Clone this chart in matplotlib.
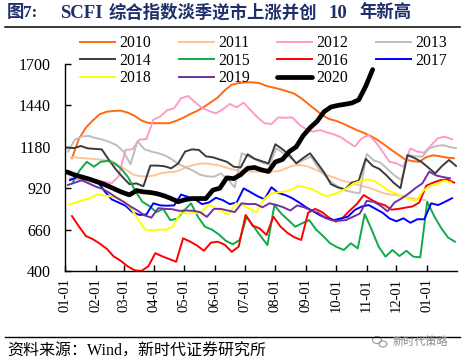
import matplotlib
matplotlib.use('Agg')
import matplotlib.pyplot as plt
import numpy as np
from matplotlib.lines import Line2D
import matplotlib.patches as mpatches

plt.rcParams['font.family'] = ['Liberation Serif', 'Noto Sans CJK SC', 'DejaVu Sans']

# ---------------- data ----------------
years = ['2010', '2011', '2012', '2013', '2014', '2015', '2016', '2017', '2018', '2019', '2020']
# day-of-year of the first weekly SCFI print of each year
first_print_day = [7, 6, 5, 3, 2, 8, 7, 5, 4, 3, 2]

v2010 = [1108, 1230, 1300, 1345, 1385, 1400, 1405, 1407, 1395, 1375, 1345, 1330, 1328, 1328,
         1328, 1343, 1362, 1385, 1405, 1430, 1460, 1490, 1535, 1570, 1580, 1585, 1585, 1580,
         1562, 1552, 1541, 1528, 1514, 1485, 1450, 1415, 1380, 1355, 1343, 1326, 1305, 1285,
         1268, 1248, 1223, 1192, 1160, 1130, 1100, 1090, 1086, 1115, 1127, 1120, 1112, 1108]
v2011 = [1115, 1112, 1108, 1104, 1100, 1096, 1090, 1060, 1034, 1005, 995, 994, 1000, 1015,
         1020, 1024, 1040, 1058, 1070, 1076, 1072, 1066, 1055, 1040, 1032, 1026, 1024, 1024,
         1024, 1024, 1028, 1045, 1062, 1066, 1058, 1040, 1020, 1000, 985, 968, 958, 945,
         932, 922, 905, 888, 880, 876, 866, 857, 850, 846]
v2012 = [982, 976, 972, 970, 967, 960, 951, 995, 1160, 1165, 1225, 1228, 1350, 1370,
         1410, 1422, 1485, 1499, 1460, 1425, 1405, 1390, 1415, 1449, 1428, 1457, 1410, 1365,
         1328, 1323, 1365, 1362, 1365, 1320, 1290, 1275, 1285, 1270, 1258, 1240, 1210, 1181,
         1233, 1254, 1210, 1150, 1086, 1076, 1055, 1170, 1150, 1143, 1190, 1235, 1243, 1227]
v2013 = [1150, 1225, 1245, 1248, 1235, 1225, 1210, 1190, 1150, 1070, 1215, 1165, 1150, 1140,
         1125, 1100, 1070, 1050, 1030, 1005, 995, 992, 1013, 975, 925, 1139, 1120, 1100,
         1080, 1066, 1170, 1140, 1110, 1076, 1100, 1118, 1050, 1000, 955, 925, 905, 895,
         888, 1135, 1095, 1080, 1040, 1000, 971, 1128, 1120, 1118, 1170, 1185, 1190, 1178, 1170]
v2014 = [1175, 1172, 1185, 1170, 1167, 1164, 1100, 1040, 990, 945, 950, 932, 1062, 1062,
         1058, 1045, 1075, 1150, 1164, 1160, 1120, 1114, 1100, 1086, 1055, 1050, 1133, 1105,
         1090, 1076, 1196, 1165, 1130, 1076, 1110, 1139, 1080, 1020, 945, 925, 913, 955,
         967, 1105, 1060, 1040, 1000, 955, 920, 1128, 1110, 1086, 1050, 1013, 1060, 1097, 1060]
v2015 = [960, 1034, 1086, 1055, 1086, 1091, 1075, 1040, 985, 900, 835, 808, 770, 790,
         720, 728, 780, 825, 740, 678, 660, 630, 590, 568, 595, 741, 680, 620,
         563, 814, 760, 720, 678, 700, 720, 660, 620, 575, 550, 532, 574, 542,
         758, 660, 553, 490, 532, 494, 527, 490, 486, 835, 745, 670, 610, 584]
v2016 = [745, 680, 620, 600, 572, 540, 492, 465, 430, 405, 400, 430, 512, 492,
         475, 458, 605, 585, 560, 527, 578, 584, 565, 520, 553, 752, 685, 668,
         626, 741, 680, 640, 612, 595, 766, 790, 770, 735, 710, 735, 780, 820,
         877, 850, 827, 814, 785, 790, 798, 805, 830, 935, 955, 970, 975, 955]
v2017 = [971, 990, 992, 980, 960, 900, 850, 830, 810, 770, 752, 755, 825, 812,
         810, 812, 880, 865, 850, 820, 830, 860, 845, 820, 830, 919, 895, 870,
         850, 926, 890, 877, 857, 830, 800, 775, 750, 731, 720, 730, 741, 783,
         805, 814, 790, 766, 730, 712, 731, 703, 725, 725, 825, 814, 835, 857]
v2018 = [818, 830, 846, 857, 880, 875, 868, 860, 830, 790, 720, 660, 655, 660,
         660, 680, 762, 762, 765, 762, 815, 800, 775, 755, 825, 815, 790, 770,
         846, 885, 893, 898, 910, 935, 925, 915, 890, 870, 880, 898, 920, 950,
         965, 975, 965, 935, 905, 888, 870, 850, 840, 905, 935, 945, 968, 955]
v2019 = [940, 955, 970, 950, 930, 915, 890, 860, 835, 805, 780, 750, 735, 795,
         790, 788, 778, 780, 778, 770, 740, 790, 790, 780, 770, 825, 820, 821,
         800, 825, 815, 800, 780, 812, 800, 780, 765, 735, 718, 716, 720, 740,
         760, 840, 835, 810, 775, 830, 855, 885, 920, 950, 1024, 1000, 990, 982]
v2020 = [1022, 1005, 992, 980, 965, 950, 932, 912, 893, 878, 905, 897, 893, 885,
         872, 855, 835, 848, 855, 855, 855, 908, 920, 985, 980, 1005, 1045, 1050,
         1035, 1025, 1085, 1100, 1150, 1180, 1250, 1300, 1340, 1400, 1430, 1440, 1447, 1455,
         1475, 1560, 1665]
series = [v2010, v2011, v2012, v2013, v2014, v2015, v2016, v2017, v2018, v2019, v2020]

colors = ['#FF6A10', '#FFC497', '#FF9BCB', '#BEBEBE', '#3C3C3C', '#12A84A',
          '#FF0000', '#0000FF', '#FFFF00', '#7030A0', '#000000']

month_days = [0, 31, 59, 90, 120, 151, 181, 212, 243, 273, 304, 334, 365]
month_labels = ['01-01', '02-01', '03-01', '04-01', '05-01', '06-01', '07-01',
                '08-01', '09-01', '10-01', '11-01', '12-01', '01-01']
y_ticks = [400, 660, 920, 1180, 1440, 1700]

# ---------------- figure ----------------
W, H = 464, 364
fig = plt.figure(figsize=(W / 100, H / 100), dpi=100)
ax = fig.add_axes([65 / W, 1 - 271 / H, (457 - 65) / W, (271 - 64) / H])

handles = []
for i, (yr, start, vals, c) in enumerate(zip(years, first_print_day, series, colors)):
    days = start + 7 * np.arange(len(vals))
    is_last = (yr == '2020')
    lw = 3.4 if is_last else 1.4
    ln, = ax.plot(days, vals, color=c, lw=lw, zorder=10 if is_last else 2 + i * 0.1,
                  solid_capstyle='round' if is_last else 'projecting', label=yr)
    handles.append(ln)

ax.set_xlim(0, 395)
ax.set_ylim(400, 1700)
ax.set_yticks(y_ticks)
ax.set_xticks(month_days)
ax.set_xticklabels(month_labels, rotation=90)
for s in ['top', 'right']:
    ax.spines[s].set_visible(False)
for s in ['left', 'bottom']:
    ax.spines[s].set_linewidth(1.0)
ax.tick_params(axis='both', direction='in', length=4, width=1.0)
ax.tick_params(axis='y', pad=10, labelsize=11.5)
ax.tick_params(axis='x', pad=5, labelsize=10.5)

# legend in row-major order across 4 columns
ncol = 4
nrow = int(np.ceil(len(handles) / ncol))
order = []
for col in range(ncol):
    for row in range(nrow):
        k = row * ncol + col
        if k < len(handles):
            order.append(k)
leg = fig.legend([handles[k] for k in order], [years[k] for k in order],
                 ncol=ncol, loc='upper left', bbox_to_anchor=(80 / W, 1 - 35 / H),
                 frameon=False, fontsize=11.3, handlelength=2.23, handletextpad=0.27,
                 columnspacing=1.76, labelspacing=0.11, borderpad=0, borderaxespad=0)

# title, rules and source
title_color = '#1F2F6B'
ty = 1 - 13 / H
fig.text(7 / W, ty, '图', fontsize=12.5, fontweight='bold', color=title_color, va='center')
fig.text(23 / W, ty, '7:', fontsize=12.5, fontweight='bold', color=title_color, va='center')
fig.text(60 / W, ty, 'SCFI', fontsize=13.5, fontweight='bold', color=title_color, va='center')
fig.text(109 / W, ty, '综合指数淡季逆市上涨并创', fontsize=12.5, fontweight='bold',
         color=title_color, va='center')
fig.text(329 / W, ty, '10', fontsize=13.5, fontweight='bold', color=title_color, va='center')
fig.text(359 / W, ty, '年新高', fontsize=12.5, fontweight='bold', color=title_color, va='center')
fig.add_artist(Line2D([5 / W, 460 / W], [1 - 26.5 / H, 1 - 26.5 / H], color='black', lw=1.1))
fig.add_artist(Line2D([5 / W, 460 / W], [1 - 337 / H, 1 - 337 / H], color='black', lw=1.0))
fig.text(7 / W, 1 - 352 / H, '资料来源：Wind，新时代证券研究所', fontsize=11.5, color='black', va='center')

# watermark
fig.add_artist(mpatches.Ellipse((377 / W, 1 - 340 / H), 9 / W, 7 / H, fill=False, ec='#999999', lw=0.8))
fig.add_artist(mpatches.Ellipse((383 / W, 1 - 344 / H), 8 / W, 6 / H, fill=False, ec='#999999', lw=0.8))
fig.text(393 / W, 1 - 342 / H, '新时代策略', fontsize=8, color='#8A8A8A', va='center')

fig.savefig('out.png', dpi=100)
